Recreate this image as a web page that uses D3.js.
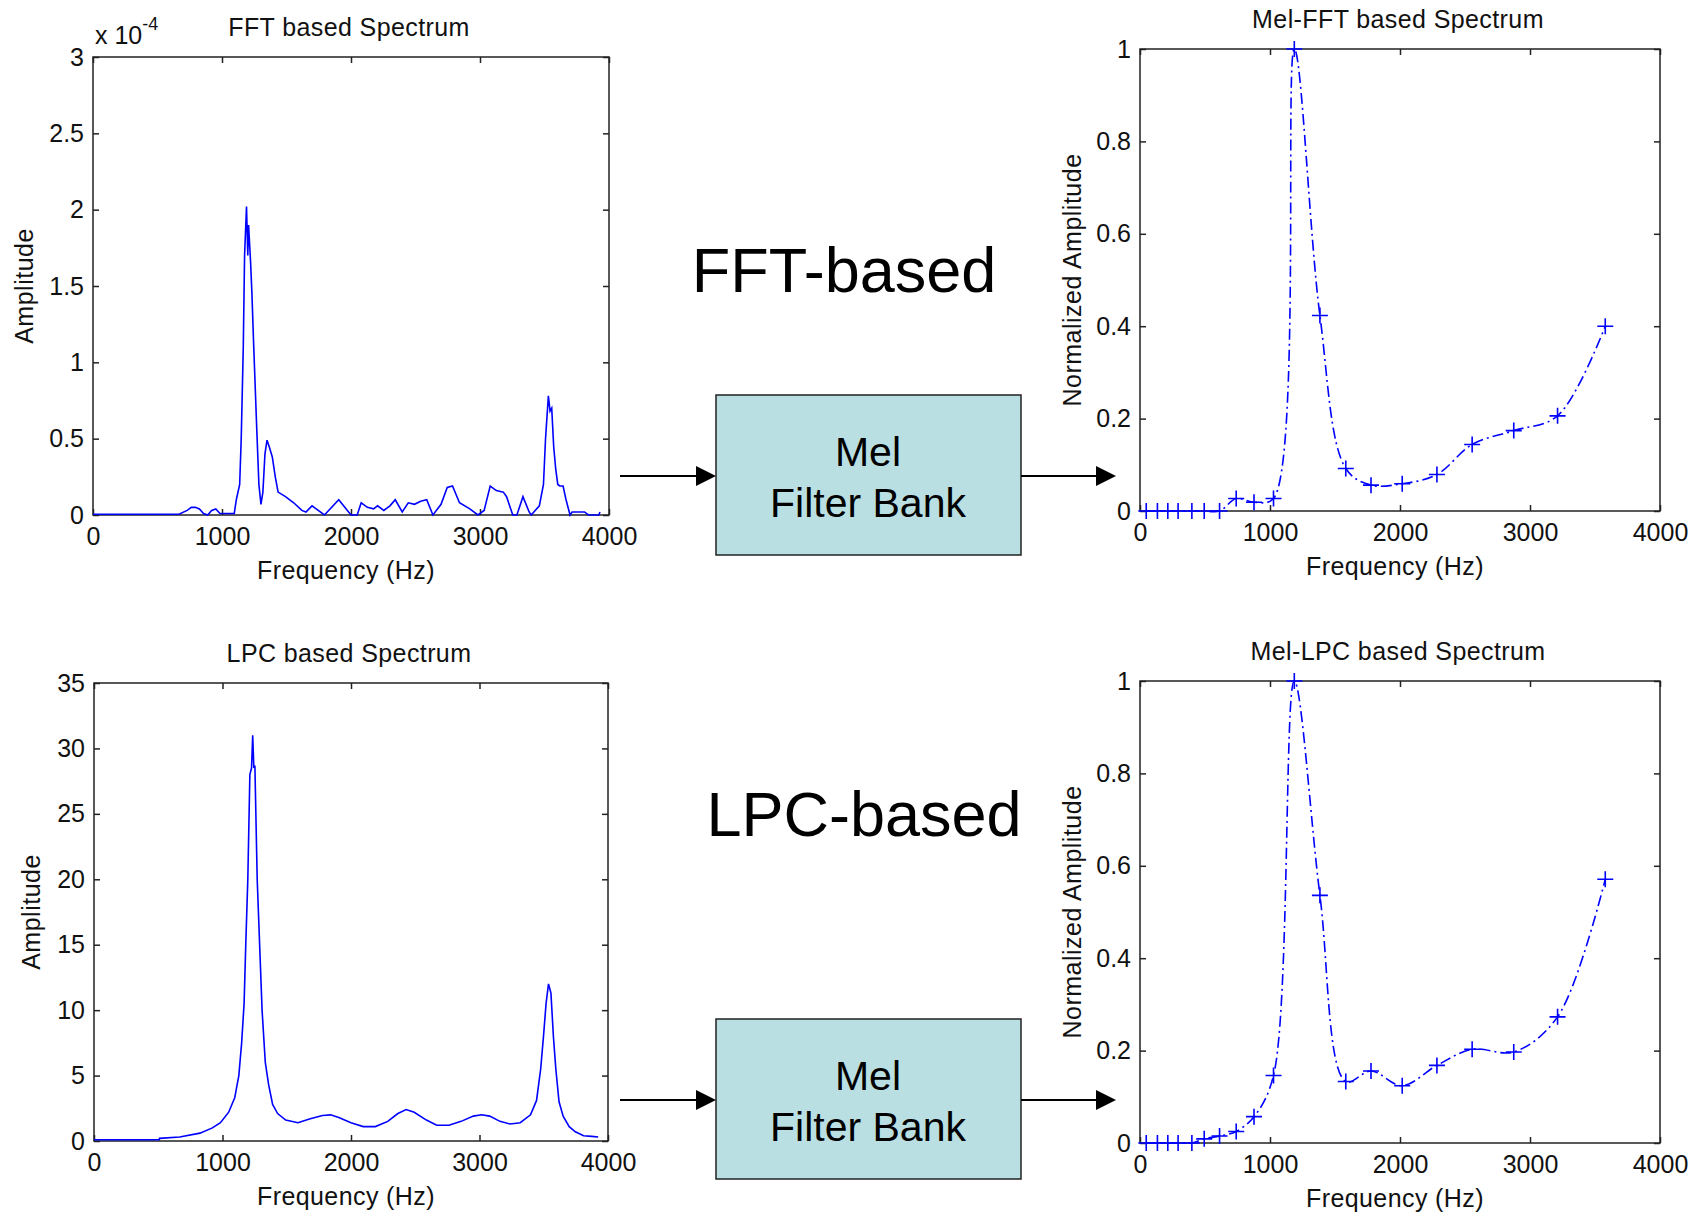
<!DOCTYPE html>
<html>
<head>
<meta charset="utf-8">
<script src="https://cdn.jsdelivr.net/npm/d3@7"></script>
<style>
body{margin:0;background:#fff;}
text{font-family:"Liberation Sans",Arial,Helvetica,sans-serif;}
</style>
</head>
<body>
<script>
// frequency axis ticks (Hz)
var freqTicks = [0,1000,2000,3000,4000];
var fftTicks = [0,0.5,1,1.5,2,2.5,3];
var lpcTicks = [0,5,10,15,20,25,30,35];
var melTicks = [0,0.2,0.4,0.6,0.8,1];

// FFT based spectrum (amplitude in units of 1e-4)
var fftFreq = [0,667,730,762,794,825,857,889,920,952,984,1095,1111,1137,1149,1165,1175,1190,1200,1206,1222,1232,1244,1257,1270,1286,1302,1317,1333,1349,1365,1390,1413,1435,1492,1556,1619,1651,1698,1730,1794,1905,2000,2048,2079,2127,2175,2206,2254,2302,2343,2397,2444,2492,2540,2587,2635,2698,2746,2787,2841,2921,2984,3032,3079,3127,3181,3206,3254,3286,3333,3381,3397,3460,3492,3508,3530,3543,3556,3571,3587,3603,3619,3644,3667,3698,3714,3810,3841,3921,3930];
var fftAmp = [0.005,0.005,0.03,0.05,0.05,0.04,0.01,0,0.03,0.04,0.01,0.01,0.1,0.2,0.5,1.1,1.7,2.02,1.7,1.9,1.65,1.45,1.15,0.85,0.55,0.2,0.07,0.15,0.4,0.49,0.45,0.38,0.25,0.15,0.12,0.08,0.03,0.02,0.06,0.04,0,0.1,0,0,0.08,0.05,0.04,0.06,0.03,0.06,0.1,0.02,0.08,0.07,0.09,0.1,0,0.07,0.18,0.19,0.08,0.04,0,0.03,0.19,0.16,0.15,0.12,0,0,0.12,0.02,0,0.06,0.2,0.5,0.78,0.68,0.7,0.45,0.3,0.2,0.19,0.19,0.1,0,0.02,0.02,0,0,0.02];

// LPC based spectrum
var lpcFreq = [0,508,510,667,825,921,984,1048,1095,1127,1149,1168,1181,1197,1213,1226,1235,1244,1252,1270,1289,1308,1333,1359,1390,1429,1492,1587,1683,1778,1841,1905,2000,2095,2190,2286,2365,2429,2492,2587,2667,2762,2857,2952,3016,3079,3159,3238,3317,3397,3444,3476,3498,3518,3537,3556,3575,3594,3619,3651,3698,3746,3810,3873,3924];
var lpcAmp = [0.1,0.1,0.2,0.3,0.6,1.0,1.4,2.2,3.3,5.0,7.5,10.5,15,20,28,28.5,31,28.5,28.7,20,15,10,6,4.3,2.8,2.1,1.6,1.4,1.7,1.95,2.0,1.8,1.4,1.1,1.1,1.5,2.1,2.4,2.2,1.6,1.2,1.2,1.5,1.9,2.0,1.9,1.5,1.3,1.4,2.0,3.1,5.5,8,10.5,12,11.3,8,5.5,3,1.9,1.1,0.7,0.4,0.35,0.3];

// Mel filter bank outputs (normalized)
var melFreq = [48,134,214,293,399,494,612,740,877,1027,1187,1384,1583,1777,2017,2284,2555,2875,3212,3579];
var melFftAmp = [0,0,0,0,0,0,0,0.027,0.019,0.027,1.0,0.423,0.092,0.056,0.059,0.079,0.144,0.174,0.206,0.40];
var melLpcAmp = [0,0,0,0,0,0.009,0.015,0.025,0.057,0.146,1.0,0.536,0.133,0.156,0.124,0.168,0.203,0.197,0.273,0.571];

var blue = "#0000ff";
var svg = d3.select("body").append("svg").attr("width",1690).attr("height",1215);
svg.append("rect").attr("width",1690).attr("height",1215).attr("fill","#fff");

function drawPanel(p){
  var x = d3.scaleLinear().domain([0,4000]).range([p.left,p.right]);
  var y = d3.scaleLinear().domain([p.yTicks[0],p.yTicks[p.yTicks.length-1]]).range([p.bottom,p.top]);
  var g = svg.append("g");
  var tk = 6;

  g.append("g").attr("transform","translate(0,"+p.bottom+")")
    .call(d3.axisBottom(x).tickValues(freqTicks).tickSizeInner(-tk).tickSizeOuter(0).tickPadding(12).tickFormat(d=>String(d)));
  g.append("g").attr("transform","translate(0,"+p.top+")")
    .call(d3.axisTop(x).tickValues(freqTicks).tickSizeInner(-tk).tickSizeOuter(0).tickFormat(""));
  g.append("g").attr("transform","translate("+p.left+",0)")
    .call(d3.axisLeft(y).tickValues(p.yTicks).tickSizeInner(-tk).tickSizeOuter(0).tickPadding(9).tickFormat(d=>String(d)));
  g.append("g").attr("transform","translate("+p.right+",0)")
    .call(d3.axisRight(y).tickValues(p.yTicks).tickSizeInner(-tk).tickSizeOuter(0).tickFormat(""));
  g.selectAll(".domain").remove();
  g.selectAll(".tick line").attr("stroke","#222").attr("stroke-width",1.5);
  g.selectAll(".tick text").attr("font-size",25).attr("fill","#111");

  g.append("rect").attr("x",p.left).attr("y",p.top)
    .attr("width",p.right-p.left).attr("height",p.bottom-p.top)
    .attr("fill","none").attr("stroke","#222").attr("stroke-width",1.5);

  // title and labels
  var mid = (p.left+p.right)/2;
  g.append("text").attr("x",mid-2).attr("y",p.top-21)
    .attr("text-anchor","middle").attr("font-size",25).attr("letter-spacing",0.4).attr("fill","#111").text(p.title);
  g.append("text").attr("x",mid-5).attr("y",p.bottom+64)
    .attr("text-anchor","middle").attr("font-size",25).attr("letter-spacing",0.4).attr("fill","#111").text("Frequency (Hz)");
  g.append("text").attr("transform","translate("+p.yLabelX+","+(p.top+p.bottom)/2+") rotate(-90)")
    .attr("text-anchor","middle").attr("font-size",25).attr("letter-spacing",0.5).attr("fill","#111").text(p.yLabel);

  var pts = p.xs.map((d,i)=>[d,p.ys[i]]);
  if(p.mel){
    var line = d3.line().x(d=>x(d[0])).y(d=>y(d[1])).curve(d3.curveCatmullRom.alpha(0.5));
    g.append("path").attr("d",line(pts)).attr("fill","none").attr("stroke",blue)
      .attr("stroke-width",1.6).attr("stroke-dasharray","11,4,2,4");
    g.selectAll(".mk").data(pts).enter().append("path")
      .attr("transform",d=>"translate("+x(d[0])+","+y(d[1])+")")
      .attr("d","M-8,0H8M0,-8V8").attr("stroke",blue).attr("stroke-width",1.6).attr("fill","none");
  } else {
    var line2 = d3.line().x(d=>x(d[0])).y(d=>y(d[1]));
    g.append("path").attr("d",line2(pts)).attr("fill","none").attr("stroke",blue).attr("stroke-width",1.6);
  }
  return g;
}

var g1 = drawPanel({left:93,right:609,top:57,bottom:515,yTicks:fftTicks,title:"FFT based Spectrum",yLabel:"Amplitude",yLabelX:33,xs:fftFreq,ys:fftAmp});
var g2 = drawPanel({left:1140,right:1660,top:49,bottom:511,yTicks:melTicks,title:"Mel-FFT based Spectrum",yLabel:"Normalized Amplitude",yLabelX:1081,xs:melFreq,ys:melFftAmp,mel:true});
var g3 = drawPanel({left:94,right:608,top:683,bottom:1141,yTicks:lpcTicks,title:"LPC based Spectrum",yLabel:"Amplitude",yLabelX:40,xs:lpcFreq,ys:lpcAmp});
var g4 = drawPanel({left:1140,right:1660,top:681,bottom:1143,yTicks:melTicks,title:"Mel-LPC based Spectrum",yLabel:"Normalized Amplitude",yLabelX:1081,xs:melFreq,ys:melLpcAmp,mel:true});

// exponent label of the FFT plot
var ex = g1.append("text").attr("x",95).attr("y",44).attr("font-size",25).attr("fill","#111");
ex.append("tspan").text("x 10");
ex.append("tspan").attr("dy",-14).attr("font-size",18).text("-4");

// big labels
svg.append("text").attr("x",844).attr("y",292).attr("text-anchor","middle").attr("font-size",63).attr("fill","#000").text("FFT-based");
svg.append("text").attr("x",864).attr("y",836).attr("text-anchor","middle").attr("font-size",63).attr("fill","#000").text("LPC-based");

// Mel filter bank blocks with arrows
function block(top, arrowY){
  svg.append("rect").attr("x",716).attr("y",top).attr("width",305).attr("height",160)
    .attr("fill","#badfe2").attr("stroke","#222").attr("stroke-width",1.5);
  svg.append("text").attr("x",868).attr("y",top+71).attr("text-anchor","middle").attr("font-size",41).attr("fill","#000").text("Mel");
  svg.append("text").attr("x",868).attr("y",top+122).attr("text-anchor","middle").attr("font-size",41).attr("fill","#000").text("Filter Bank");
  svg.append("line").attr("x1",620).attr("x2",698).attr("y1",arrowY).attr("y2",arrowY).attr("stroke","#000").attr("stroke-width",2);
  svg.append("path").attr("d","M696,"+(arrowY-10)+"L716,"+arrowY+"L696,"+(arrowY+10)+"Z").attr("fill","#000");
  svg.append("line").attr("x1",1021).attr("x2",1098).attr("y1",arrowY).attr("y2",arrowY).attr("stroke","#000").attr("stroke-width",2);
  svg.append("path").attr("d","M1096,"+(arrowY-10)+"L1116,"+arrowY+"L1096,"+(arrowY+10)+"Z").attr("fill","#000");
}
block(395,476);
block(1019,1100);
</script>
</body>
</html>
